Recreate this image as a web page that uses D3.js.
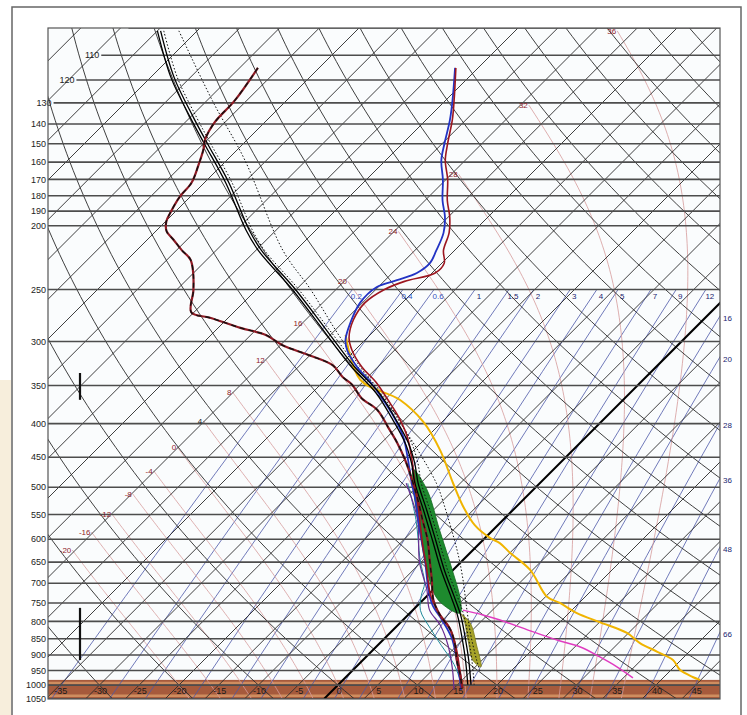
<!DOCTYPE html>
<html>
<head>
<meta charset="utf-8">
<script src="https://cdn.jsdelivr.net/npm/d3@7"></script>
<style>
body { margin: 0; background: #fff; }
svg text { font-family: "Liberation Sans", Arial, sans-serif; }
</style>
</head>
<body>
<div class="canvas"></div>
<script>
// pressure levels (hPa)
const isobars = [100, 110, 120, 130, 140, 150, 160, 170, 180, 190, 200, 250, 300, 350, 400, 450, 500, 550, 600, 650, 700, 750, 800, 850, 900, 950, 1000, 1050];
const isobarLabels = [110, 120, 130, 140, 150, 160, 170, 180, 190, 200, 250, 300, 350, 400, 450, 500, 550, 600, 650, 700, 750, 800, 850, 900, 950, 1000, 1050];
const tempLabels = [-35, -30, -25, -20, -15, -10, -5, 0, 5, 10, 15, 20, 25, 30, 35, 40, 45];
const cornerT = -109;          // upper-left cut of the isobars
const surfaceP = 982;          // below-ground shading

// background lines
const dryThetaC = d3.range(-60, 210, 10);
const moistThetaW = [-20, -16, -12, -8, -4, 0, 4, 8, 12, 16, 20, 24, 28, 32, 36];
const moistTopP = [623, 585, 550, 512, 472, 434, 396, 358, 320, 281, 243, 204, 167, 131, 101];
const mixTop = [0.2, 0.4, 0.6, 1, 1.5, 2, 3, 4, 5, 7, 9, 12];
const mixRight = [16, 20, 28, 36, 48, 66];

// soundings [p, T]
const dewP = [115, 129, 139, 148, 153, 162, 172, 181, 191, 197, 204, 210, 218, 225, 235, 251, 271, 276, 286, 293, 304, 315, 326, 340, 349, 366, 381, 406, 428, 454, 487, 523, 561, 601, 645, 692, 742, 782, 824, 869, 916, 965, 1011];
const dewT = [-87.7, -86.5, -86.3, -85.3, -84.3, -82.9, -81.6, -81.3, -80.5, -79.9, -78.6, -76.7, -74.3, -72.1, -70.2, -67.8, -65.3, -62.3, -57.2, -53.2, -49.7, -45.0, -40.9, -38.1, -36.0, -33.1, -29.7, -26.0, -23.0, -19.9, -16.5, -13.2, -10.1, -7.0, -4.2, -1.4, 1.3, 4.0, 7.2, 9.7, 11.8, 14.1, 16.0];

const tempBlueP = [115, 129, 138, 150, 159, 170, 183, 194, 205, 218, 228, 236, 242, 248, 262, 281, 298, 309, 328, 346, 368, 390, 419, 450, 493, 523, 581, 645, 716, 755, 796, 848, 916, 982, 1017];
const tempBlueT = [-62.9, -59.1, -57.0, -54.7, -53.0, -50.4, -47.8, -45.4, -43.6, -42.3, -41.5, -41.9, -43.5, -45.2, -45.3, -44.0, -42.5, -41.0, -37.6, -34.0, -30.2, -26.8, -23.0, -19.9, -16.1, -13.5, -9.2, -4.8, -0.6, 1.8, 4.9, 8.4, 11.8, 14.7, 16.1];

const tempRedP = [115, 129, 138, 150, 159, 170, 183, 194, 205, 218, 228, 236, 243, 250, 262, 278, 296, 309, 328, 346, 368, 390, 419, 450, 493, 541, 601, 668, 729, 774, 819, 878, 943, 1011];
const tempRedT = [-62.8, -58.9, -56.7, -54.3, -52.5, -49.8, -47.2, -44.8, -42.9, -41.4, -39.7, -39.6, -42.4, -43.9, -44.7, -44.0, -42.3, -40.4, -37.0, -33.3, -29.6, -26.2, -22.5, -19.4, -15.7, -11.9, -7.7, -3.3, 0.3, 3.4, 6.9, 10.2, 13.2, 16.1];

const yellowP = [293, 343, 368, 398, 439, 493, 532, 571, 597, 608, 629, 668, 734, 750, 777, 802, 833, 863, 890, 916, 948, 972, 982];
const yellowT = [-43.1, -35.6, -28.1, -22.3, -16.7, -10.9, -7.0, -2.9, 0.6, 2.5, 5.0, 9.7, 15.2, 17.6, 21.0, 25.0, 29.8, 32.7, 36.0, 39.0, 41.1, 43.6, 44.9];

const magentaP = [769, 782, 796, 830, 854, 875, 906, 938, 975];
const magentaT = [6.3, 9.4, 12.2, 17.9, 21.9, 25.7, 29.4, 32.8, 36.2];

const purpleP = [493, 560, 650, 716, 769, 810, 869, 948, 1017];
const purpleT = [-16.8, -10.8, -5.2, -0.8, 2.1, 5.3, 8.8, 12.5, 15.2];
const tealP = [493, 560, 645, 700, 730, 770, 820, 870, 930, 1000];
const tealT = [-16.6, -11.0, -5.4, -1.9, -0.8, 1.0, 4.5, 8.0, 12.0, 15.6];

const parcelP = [101, 119, 137, 150, 172, 203, 218, 250, 291, 328, 359, 391, 428, 459, 493, 541, 601, 668, 729, 782, 854, 916, 999];
const parcelT = [-104.8, -97.2, -89.7, -84.7, -77.1, -68.6, -64.5, -55.3, -45.7, -38.1, -31.8, -26.8, -21.8, -18.5, -15.5, -11.1, -6.2, -1.3, 3.0, 6.4, 10.2, 13.1, 16.5];
const dotNearT = [-104.2, -96.6, -89.1, -84.1, -76.5, -68.0, -63.9, -54.7, -45.1, -37.5, -31.2, -26.2, -21.2, -17.9, -14.9, -10.5, -5.6, -0.7, 3.6, 7.0, 10.8, 13.7, 17.1];
const dotFarP = [101, 129, 159, 218, 250, 288, 328, 368, 402, 439, 493, 523, 623, 685, 769, 833, 916, 958];
const dotFarT = [-102.3, -89.3, -77.7, -61.6, -53.2, -45.0, -37.2, -29.9, -24.7, -19.5, -13.0, -10.1, -2.0, 2.1, 6.8, 10.1, 14.3, 16.4];

// shaded areas, outline going down the left edge and back up the right edge
const greenP = [470, 505, 581, 668, 742, 777, 742, 668, 581, 505];
const greenT = [-17.6, -15.0, -9.2, -3.3, 1.9, 6.3, 4.7, -0.1, -6.7, -13.3];
const oliveP = [777, 788, 854, 916, 938, 932, 875, 804];
const oliveT = [6.3, 7.2, 10.7, 13.8, 15.7, 15.5, 12.7, 8.8];

const windP = [[335, 368], [763, 916]];

// ---------------------------------------------------------------
const W = 747, H = 715;
const plotL = 48, plotT = 28, plotR = 720, plotB = 699;

const svg = d3.select(".canvas").append("svg")
    .attr("width", W)
    .attr("height", H);

const y = d3.scaleLog().domain([1050, 100]).range([plotB, plotT]);
const xT = d3.scaleLinear().domain([0, 45]).range([324, 324 + 45 * 7.95]);
const px = (T, p) => xT(T) + (plotB - y(p));

const line = d3.line().x(d => px(d[1], d[0])).y(d => y(d[0]));
const smooth = d3.line().x(d => px(d[1], d[0])).y(d => y(d[0])).curve(d3.curveCatmullRom);
const zip = (P, T) => P.map((p, i) => [p, T[i]]);

// pressure samples for curved background lines
const pSteps = d3.range(0, 81).map(i => 1050 * Math.pow(100 / 1050, i / 80));

function dewpoint(p, w) {
    const e = w * p / (622 + w);
    const g = Math.log(e / 6.112);
    return 243.5 * g / (17.67 - g);
}
function moistRate(T, p) {
    const tc = T - 273.15;
    const es = 6.112 * Math.exp(17.67 * tc / (tc + 243.5));
    const rs = 0.622 * es / (p - es);
    return (287.04 * T + 2.501e6 * rs) / (1005.7 + 2.501e6 * 2.501e6 * rs * 0.622 / (287.04 * T * T));
}
function moistCurve(tw, pTop) {
    const step = (T, lp, h) => {
        const k1 = moistRate(T, Math.exp(lp));
        const k2 = moistRate(T + h * k1 / 2, Math.exp(lp + h / 2));
        const k3 = moistRate(T + h * k2 / 2, Math.exp(lp + h / 2));
        const k4 = moistRate(T + h * k3, Math.exp(lp + h));
        return T + h * (k1 + 2 * k2 + 2 * k3 + k4) / 6;
    };
    const pts = [];
    let T = tw + 273.15, lp = Math.log(1000);
    const hd = (Math.log(1050) - lp) / 4;
    let Td = T, lpd = lp;
    const down = [];
    for (let i = 0; i < 4; i++) { Td = step(Td, lpd, hd); lpd += hd; down.push([Math.exp(lpd), Td - 273.15]); }
    down.reverse().forEach(d => pts.push(d));
    pts.push([1000, tw]);
    const n = 120, h = (Math.log(pTop) - lp) / n;
    for (let i = 0; i < n; i++) { T = step(T, lp, h); lp += h; pts.push([Math.exp(lp), T - 273.15]); }
    return pts;
}

svg.append("rect").attr("x", 0).attr("y", 0).attr("width", W).attr("height", H).attr("fill", "#fff");
svg.append("rect").attr("x", 0).attr("y", 380).attr("width", 11).attr("height", H - 380).attr("fill", "#f7eedc");
svg.append("rect").attr("x", 12).attr("y", 7).attr("width", 729).attr("height", 712)
    .attr("fill", "none").attr("stroke", "#666").attr("stroke-width", 1.5);
svg.append("rect").attr("x", plotL).attr("y", plotT).attr("width", plotR - plotL).attr("height", plotB - plotT)
    .attr("fill", "#fafcfd");

svg.append("defs").append("clipPath").attr("id", "plot")
    .append("rect").attr("x", plotL).attr("y", plotT).attr("width", plotR - plotL).attr("height", plotB - plotT);

// below ground
const ground = svg.append("g");
ground.append("rect").attr("x", plotL).attr("y", y(surfaceP)).attr("width", plotR - plotL)
    .attr("height", plotB - y(surfaceP)).attr("fill", "#a65a3c");
[993, 1038].forEach(p => {
    ground.append("line").attr("x1", plotL).attr("x2", plotR).attr("y1", y(p)).attr("y2", y(p))
        .attr("stroke", "#cf8d5f").attr("stroke-width", 2.5);
});

const grid = svg.append("g").attr("clip-path", "url(#plot)");

// mixing ratio lines
const mixAll = mixTop.concat(mixRight);
grid.selectAll(".mix").data(mixAll).enter().append("path")
    .attr("class", "mix")
    .attr("d", w => line(d3.range(0, 21).map(i => {
        const p = 250 * Math.pow(1050 / 250, i / 20);
        return [p, dewpoint(p, w)];
    })))
    .attr("fill", "none").attr("stroke", "#4c58a8").attr("stroke-width", 0.8);

// moist adiabats
grid.selectAll(".moist").data(moistThetaW).enter().append("path")
    .attr("class", "moist")
    .attr("d", (tw, i) => line(moistCurve(tw, moistTopP[i])))
    .attr("fill", "none").attr("stroke", "#d59a9a").attr("stroke-width", 0.8);

// dry adiabats
grid.selectAll(".dry").data(dryThetaC).enter().append("path")
    .attr("class", "dry")
    .attr("d", th => line(pSteps.map(p => [p, (th + 273.15) * Math.pow(p / 1000, 0.2857) - 273.15])))
    .attr("fill", "none").attr("stroke", "#2a2a2a").attr("stroke-width", 0.9);

// isotherms
grid.selectAll(".iso").data(d3.range(-120, 50, 5)).enter().append("line")
    .attr("class", "iso")
    .attr("x1", t => px(t, 1050)).attr("y1", y(1050))
    .attr("x2", t => px(t, 100)).attr("y2", y(100))
    .attr("stroke", t => t === 0 ? "#000" : "#2a2a2a")
    .attr("stroke-width", t => t === 0 ? 2 : 0.9);

// isobars
const isoStart = p => Math.max(plotL, px(cornerT, p));
grid.selectAll(".isobar").data(isobars).enter().append("line")
    .attr("class", "isobar")
    .attr("x1", p => isoStart(p)).attr("x2", plotR)
    .attr("y1", p => y(p)).attr("y2", p => y(p))
    .attr("stroke", "#4d4d4d").attr("stroke-width", 1.6);

// fills
const fills = svg.append("g").attr("clip-path", "url(#plot)");
const closed = d3.line().x(d => px(d[1], d[0])).y(d => y(d[0])).curve(d3.curveCatmullRomClosed);
fills.append("path").attr("d", closed(zip(greenP, greenT)))
    .attr("fill", "#1e8a2e").attr("stroke", "#156b22").attr("stroke-width", 0.8);
fills.append("path").attr("d", closed(zip(oliveP, oliveT)))
    .attr("fill", "#a6a32a").attr("stroke", "#7d7a1c").attr("stroke-width", 0.8);

// profiles
const prof = svg.append("g").attr("clip-path", "url(#plot)");
prof.append("path").attr("d", smooth(zip(dotFarP, dotFarT)))
    .attr("fill", "none").attr("stroke", "#111").attr("stroke-width", 1).attr("stroke-dasharray", "1.5,2");
prof.append("path").attr("d", smooth(zip(parcelP, dotNearT)))
    .attr("fill", "none").attr("stroke", "#111").attr("stroke-width", 1).attr("stroke-dasharray", "1.5,2");
prof.append("path").attr("d", smooth(zip(tealP, tealT)))
    .attr("fill", "none").attr("stroke", "#1f8a9a").attr("stroke-width", 1);
prof.append("path").attr("d", smooth(zip(purpleP, purpleT)))
    .attr("fill", "none").attr("stroke", "#6a2c91").attr("stroke-width", 1.2);
prof.append("path").attr("d", smooth(zip(magentaP, magentaT)))
    .attr("fill", "none").attr("stroke", "#e03cc0").attr("stroke-width", 1.5);
prof.append("path").attr("d", smooth(zip(yellowP, yellowT)))
    .attr("fill", "none").attr("stroke", "#f0b400").attr("stroke-width", 2);
prof.append("path").attr("d", smooth(zip(tempBlueP, tempBlueT)))
    .attr("fill", "none").attr("stroke", "#2233c4").attr("stroke-width", 1.8);
prof.append("path").attr("d", smooth(zip(tempRedP, tempRedT)))
    .attr("fill", "none").attr("stroke", "#9c1620").attr("stroke-width", 1.6);
[-1.6, 1.6].forEach(dx => {
    prof.append("path").attr("d", smooth(zip(parcelP, parcelT)))
        .attr("transform", "translate(" + dx + ",0)")
        .attr("fill", "none").attr("stroke", "#000").attr("stroke-width", 1.3);
});
prof.append("path").attr("d", smooth(zip(dewP, dewT)))
    .attr("fill", "none").attr("stroke", "#8e1a24").attr("stroke-width", 2.2);
prof.append("path").attr("d", smooth(zip(dewP, dewT)))
    .attr("fill", "none").attr("stroke", "#111").attr("stroke-width", 1.4).attr("stroke-dasharray", "5,4");

// wind staffs
svg.selectAll(".wind").data(windP).enter().append("line")
    .attr("class", "wind")
    .attr("x1", 80).attr("x2", 80)
    .attr("y1", d => y(d[0])).attr("y2", d => y(d[1]))
    .attr("stroke", "#111").attr("stroke-width", 2.2);

// labels
svg.selectAll(".plab").data(isobarLabels).enter().append("text")
    .attr("class", "plab")
    .attr("x", p => isoStart(p) - 2).attr("y", p => y(p))
    .attr("dy", "0.35em").attr("text-anchor", "end")
    .attr("font-size", 9).attr("fill", "#222")
    .text(p => p);

svg.selectAll(".tlab").data(tempLabels).enter().append("text")
    .attr("class", "tlab")
    .attr("x", t => px(t, y.invert(690)) + 6).attr("y", 694)
    .attr("text-anchor", "middle").attr("font-size", 9).attr("fill", "#1a1a1a")
    .text(t => t);

svg.selectAll(".mlab").data(moistThetaW).enter().append("text")
    .attr("class", "mlab")
    .attr("x", (tw, i) => { const c = moistCurve(tw, moistTopP[i]); return px(c[c.length - 1][1], moistTopP[i]) - 1; })
    .attr("y", (tw, i) => y(moistTopP[i]))
    .attr("dy", "0.35em").attr("text-anchor", "end")
    .attr("font-size", 8).attr("fill", tw => tw === 4 ? "#222" : "#8e1a2a")
    .text(tw => tw);

svg.selectAll(".wlab").data(mixTop).enter().append("text")
    .attr("class", "wlab")
    .attr("x", w => px(dewpoint(250, w), 250) + 4).attr("y", y(250) + 10)
    .attr("text-anchor", "middle").attr("font-size", 8)
    .attr("fill", w => w < 1 ? "#3550c0" : "#1a2470")
    .text(w => w);

function edgeP(w) {
    let lo = 250, hi = 1050;
    for (let i = 0; i < 40; i++) {
        const mid = (lo + hi) / 2;
        if (px(dewpoint(mid, w), mid) > plotR) lo = mid; else hi = mid;
    }
    return (lo + hi) / 2;
}
svg.selectAll(".rlab").data(mixRight).enter().append("text")
    .attr("class", "rlab")
    .attr("x", plotR + 3).attr("y", w => y(edgeP(w)) + 2)
    .attr("dy", "0.35em").attr("font-size", 8).attr("fill", "#1a2470")
    .text(w => w);

svg.append("rect").attr("x", plotL).attr("y", plotT).attr("width", plotR - plotL).attr("height", plotB - plotT)
    .attr("fill", "none").attr("stroke", "#555").attr("stroke-width", 1.2);
</script>
</body>
</html>
